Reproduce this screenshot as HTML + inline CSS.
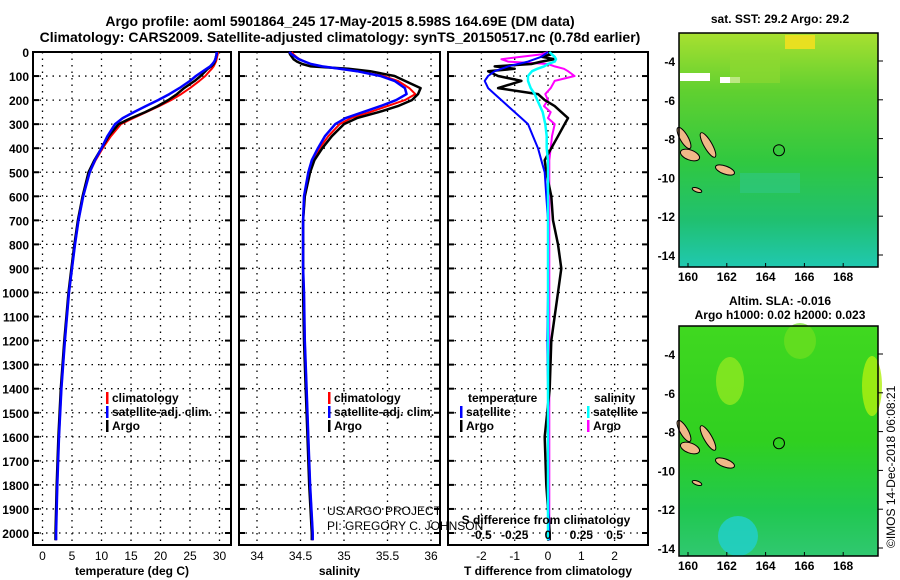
<!DOCTYPE html>
<html><head><meta charset="utf-8"><style>
body{margin:0;background:#fff;}
svg{display:block;font-family:"Liberation Sans",sans-serif;}
.t{font-weight:bold;font-size:14px;}
.tk{font-weight:bold;font-size:12px;}
</style></head><body>
<svg id="c" width="900" height="580" viewBox="0 0 900 580">
<text class="t" x="340" y="26" text-anchor="middle">Argo profile: aoml 5901864_245 17-May-2015 8.598S 164.69E (DM data)</text>
<text class="t" x="340" y="42" text-anchor="middle">Climatology: CARS2009. Satellite-adjusted climatology: synTS_20150517.nc (0.78d earlier)</text>
<g id="p1"></g>
<g id="p2"></g>
<g id="p3"></g>
<g id="maps"></g>
<text x="895" y="548" font-size="12" transform="rotate(-90 895 548)">©IMOS 14-Dec-2018 06:08:21</text>
</svg>
<script>
const NS="http://www.w3.org/2000/svg";
// ---- data ----
const depths=[0,10,20,30,40,50,60,70,80,100,120,150,175,200,225,250,275,300,350,400,450,500,600,700,800,900,1000,1200,1400,1600,1800,2000,2030];
const tempArgo=[29.5,29.5,29.4,29.3,29.2,29.0,28.6,28.0,27.6,26.8,25.8,24.0,22.8,21.3,19.5,17.4,15.0,12.9,11.2,10.0,8.8,7.8,6.8,6.0,5.4,4.9,4.4,3.7,3.1,2.7,2.4,2.2,2.2];
const tempClim=[29.7,29.7,29.6,29.5,29.4,29.2,29.0,28.7,28.3,27.6,26.6,25.0,23.5,21.8,19.8,17.6,15.4,13.3,11.6,10.2,9.0,8.0,6.9,6.1,5.5,5.0,4.5,3.8,3.2,2.8,2.5,2.3,2.3];
const tempSat=[29.5,29.5,29.4,29.3,29.1,28.8,28.4,27.8,27.2,26.0,25.0,23.2,21.5,19.6,17.5,15.5,13.6,12.3,11.0,10.0,8.9,8.0,6.9,6.1,5.5,5.0,4.5,3.8,3.2,2.8,2.5,2.3,2.3];
const salArgo=[34.37,34.38,34.40,34.42,34.46,34.52,34.62,35.05,35.30,35.58,35.70,35.88,35.85,35.78,35.62,35.40,35.15,35.00,34.86,34.75,34.66,34.61,34.55,34.53,34.53,34.53,34.53,34.54,34.56,34.58,34.60,34.63,34.63];
const salClim=[34.40,34.42,34.45,34.49,34.55,34.62,34.75,34.95,35.15,35.45,35.62,35.75,35.82,35.70,35.50,35.30,35.08,34.95,34.82,34.72,34.65,34.60,34.55,34.53,34.53,34.53,34.54,34.55,34.57,34.59,34.61,34.64,34.64];
const salSat=[34.37,34.40,34.44,34.48,34.55,34.62,34.75,34.95,35.15,35.42,35.58,35.70,35.72,35.60,35.42,35.22,35.02,34.90,34.78,34.70,34.63,34.59,34.54,34.53,34.53,34.53,34.54,34.55,34.57,34.59,34.61,34.64,34.64];
const dT_sat=[0.0,-0.1,-0.2,-0.4,-0.6,-0.9,-1.2,-1.4,-1.6,-1.8,-1.9,-1.8,-1.6,-1.4,-1.2,-1.0,-0.8,-0.6,-0.45,-0.3,-0.2,-0.1,-0.05,0,0,0,0,-0.02,0,0,0,0.03,0.03];
const dT_argo=[0.0,0.1,-0.2,0.2,-0.2,-0.5,-1.6,-1.0,-1.8,-1.5,-0.8,-1.5,-0.3,-0.1,0.2,0.4,0.6,0.5,0.3,0.1,-0.1,-0.05,0.1,0.15,0.3,0.4,0.3,0.1,0.05,-0.1,-0.05,0.05,0.05];
const dS_sat=[0.01,0.03,0.05,0.06,0.05,0.0,-0.03,-0.08,-0.12,-0.15,-0.15,-0.13,-0.1,-0.08,-0.06,-0.04,-0.03,-0.02,-0.01,-0.01,0,0,0,0,0,0,0,0,0,0,0,0,0];
const dS_argo=[0.0,-0.05,-0.2,-0.35,-0.3,0.0,0.05,0.12,0.15,0.2,0.05,0.02,-0.02,0.0,-0.03,0.02,0.0,0.05,0.03,0.02,0.01,0.01,0.01,0.01,0.01,0.01,0.01,0.01,0.01,0.01,0.01,0.01,0.01];
const depthTicks=[0,100,200,300,400,500,600,700,800,900,1000,1100,1200,1300,1400,1500,1600,1700,1800,1900,2000];
const tempTicks=[0,5,10,15,20,25,30];
const salTicks=[34,34.5,35,35.5,36];
const tdTicks=[-2,-1,0,1,2];
const sdTicks=[-0.5,-0.25,0,0.25,0.5];
const lonTicks=[160,162,164,166,168];
const latTicks=[-4,-6,-8,-10,-12,-14];
// ---- axes ----
const Y0=52,YB=545;
const yD=d=>Y0+d*0.2405;
const xT=v=>42.5+v*5.9;
const xS=v=>257+(v-34)*87;
const xTD=v=>548+v*33.3;
const xSD=v=>548+v*4*33.3;
function el(t,a,p){const e=document.createElementNS(NS,t);for(const k in a)e.setAttribute(k,a[k]);(p||document.getElementById('c')).appendChild(e);return e;}
function panel(g,x0,x1,xf,ticks,fmt,gridTicks,labelDepth,xlabel,name){
  el('rect',{x:x0,y:Y0,width:x1-x0,height:YB-Y0,fill:'none',stroke:'#000','stroke-width':2},g);
  depthTicks.forEach(d=>{const y=yD(d);
    el('line',{x1:x0,x2:x1,y1:y,y2:y,stroke:'#000','stroke-dasharray':'1.5,5','stroke-width':1.3},g);
    el('line',{x1:x0,x2:x0+6,y1:y,y2:y,stroke:'#000','stroke-width':2},g);
    el('line',{x1:x1-6,x2:x1,y1:y,y2:y,stroke:'#000','stroke-width':2},g);
    if(labelDepth){const t=el('text',{x:x0-4,y:y+5,'text-anchor':'end',class:'tk'},g);t.textContent=d;}
  });
  gridTicks.forEach(v=>{const x=xf(v);
    el('line',{x1:x,x2:x,y1:Y0,y2:YB,stroke:'#000','stroke-dasharray':'1.5,5','stroke-width':1.3},g);});
  ticks.forEach(v=>{const x=xf(v);
    const t=el('text',{x:x,y:YB+15,'text-anchor':'middle','font-size':12},g);t.textContent=fmt(v);});
  const xl=el('text',{x:(x0+x1)/2,y:YB+30,'text-anchor':'middle',class:'tk'},g);xl.textContent=xlabel;
  
  
}
function line(g,xf,vals,col,w,name){
  const pts=vals.map((v,i)=>xf(v).toFixed(1)+','+yD(depths[i]).toFixed(1)).join(' ');
  const p=el('polyline',{points:pts,fill:'none',stroke:col,'stroke-width':w,'stroke-linejoin':'round'},g);
  
  
}
function legend(g,x,y,col,txt,name){
  el('rect',{x:x,y:y-10,width:2.5,height:12,fill:col},g);
  const t=el('text',{x:x+6,y:y,class:'tk'},g);t.textContent=txt;
  
  
}
const p1=document.getElementById('p1'),p2=document.getElementById('p2'),p3=document.getElementById('p3');
panel(p1,33,231,xT,tempTicks,v=>v,tempTicks,true,'temperature (deg C)','temperature');
line(p1,xT,tempClim,'#f00',2,'temp-climatology-line');
line(p1,xT,tempArgo,'#000',2.5,'temp-argo-line');
line(p1,xT,tempSat,'#00f',2.5,'temp-satellite-line');
legend(p1,106,402,'#f00','climatology','legend-climatology');
legend(p1,106,416,'#00f','satellite-adj. clim.','legend-satellite');
legend(p1,106,430,'#000','Argo','legend-argo');
panel(p2,239,440,xS,salTicks,v=>v,salTicks,false,'salinity','salinity');
line(p2,xS,salClim,'#f00',2,'sal-climatology-line');
line(p2,xS,salArgo,'#000',2.5,'sal-argo-line');
line(p2,xS,salSat,'#00f',2.5,'sal-satellite-line');
legend(p2,328,402,'#f00','climatology','legend-climatology-2');
legend(p2,328,416,'#00f','satellite-adj. clim.','legend-satellite-2');
legend(p2,328,430,'#000','Argo','legend-argo-2');
let u=el('text',{x:327,y:515,'font-size':12},p2);u.textContent='US ARGO PROJECT';
u=el('text',{x:327,y:530,'font-size':12},p2);u.textContent='PI: GREGORY C. JOHNSON';
panel(p3,448,648,xTD,tdTicks,v=>v,tdTicks,false,'T difference from climatology','tdiff');
line(p3,xSD,dS_argo,'#f0f',2,'s-diff-argo-line');
line(p3,xTD,dT_argo,'#000',2.5,'t-diff-argo-line');
line(p3,xTD,dT_sat,'#00f',2,'t-diff-satellite-line');
line(p3,xSD,dS_sat,'#0ff',2.5,'s-diff-satellite-line');
let tt=el('text',{x:468,y:402,class:'tk'},p3);tt.textContent='temperature';
tt=el('text',{x:594,y:402,class:'tk'},p3);tt.textContent='salinity';
legend(p3,460,416,'#00f','satellite','legend-t-satellite');
legend(p3,460,430,'#000','Argo','legend-t-argo');
legend(p3,587,416,'#0ff','satellite','legend-s-satellite');
legend(p3,587,430,'#f0f','Argo','legend-s-argo');
tt=el('text',{x:546,y:524,'text-anchor':'middle',class:'tk'},p3);tt.textContent='S difference from climatology';
sdTicks.forEach(v=>{const t=el('text',{x:xSD(v),y:539,'text-anchor':'middle',class:'tk'},p3);t.textContent=v;});
// ---- maps ----
const mg=document.getElementById('maps');
const xL=v=>688+(v-160)*19.4, yL=v=>61+(-4-v)*19.4;
function map(y0,y1,kind,title1,title2){
  const defs=el('defs',{},mg);
  const id='g'+kind;
  const lg=el('linearGradient',{id:id,x1:0,y1:0,x2:0,y2:1},defs);
  const stops=kind==='sst'?[[0,'#a8e030'],[0.25,'#60d030'],[0.55,'#30c840'],[0.8,'#20c070'],[1,'#20c8b0']]:[[0,'#40d820'],[0.5,'#30d020'],[0.8,'#20c850'],[1,'#30c870']];
  stops.forEach(s=>el('stop',{offset:s[0],'stop-color':s[1]},lg));
  const r=el('rect',{x:679,y:y0,width:199,height:y1-y0,fill:'url(#'+id+')'},mg);
  
  
  if(kind==='sst'){
    el('rect',{x:785,y:y0+2,width:30,height:14,fill:'#e8e020'},mg);
    el('rect',{x:680,y:y0+40,width:30,height:8,fill:'#fff'},mg);
    el('rect',{x:720,y:y0+44,width:20,height:6,fill:'#fff'},mg);
    el('rect',{x:730,y:y0+20,width:50,height:30,fill:'#90d830',opacity:0.6},mg);
    el('rect',{x:740,y:y0+140,width:60,height:20,fill:'#30c890',opacity:0.5},mg);
  }else{
    el('ellipse',{cx:730,cy:y0+55,rx:14,ry:24,fill:'#90e820',opacity:0.8},mg);
    el('ellipse',{cx:872,cy:y0+60,rx:10,ry:30,fill:'#b0f010',opacity:0.8},mg);
    el('ellipse',{cx:800,cy:y0+15,rx:16,ry:18,fill:'#70e020',opacity:0.7},mg);
    el('ellipse',{cx:738,cy:y1-20,rx:20,ry:20,fill:'#20d0d0',opacity:0.8},mg);
  }
  const off=y0-33;
  [[684,138,4,12,-30],[708,145,4,14,-30],[690,155,10,5,20],[725,170,10,4,20],[697,190,5,2,20]].forEach(a=>el('ellipse',{cx:a[0],cy:a[1]+off,rx:a[2],ry:a[3],fill:'#f0b888',stroke:'#000','stroke-width':1,transform:'rotate('+a[4]+' '+a[0]+' '+(a[1]+off)+')'},mg));
  el('circle',{cx:xL(164.69),cy:y0+(yL(-8.598)-33),r:5.5,fill:'none',stroke:'#000','stroke-width':1},mg);
  el('rect',{x:679,y:y0,width:199,height:y1-y0,fill:'none',stroke:'#000','stroke-width':1.5},mg);
  lonTicks.forEach(v=>{const t=el('text',{x:xL(v),y:y1+14,'text-anchor':'middle',class:'tk'},mg);t.textContent=v;
    el('line',{x1:xL(v),x2:xL(v),y1:y1-4,y2:y1,stroke:'#000'},mg);});
  latTicks.forEach(v=>{const y=y0+(yL(v)-33);const t=el('text',{x:675,y:y+5,'text-anchor':'end',class:'tk'},mg);t.textContent=v;
    el('line',{x1:878,x2:883,y1:y,y2:y,stroke:'#000'},mg);});
  let a=el('text',{x:780,y:title2?y0-21:y0-10,'text-anchor':'middle',class:'tk'},mg);a.textContent=title1;
  if(title2){a=el('text',{x:780,y:y0-7,'text-anchor':'middle',class:'tk'},mg);a.textContent=title2;}
}
map(33,267,'sst','sat. SST: 29.2 Argo: 29.2');
map(326,556,'sla','Altim. SLA: -0.016','Argo h1000: 0.02 h2000: 0.023');
</script>
</body></html>
